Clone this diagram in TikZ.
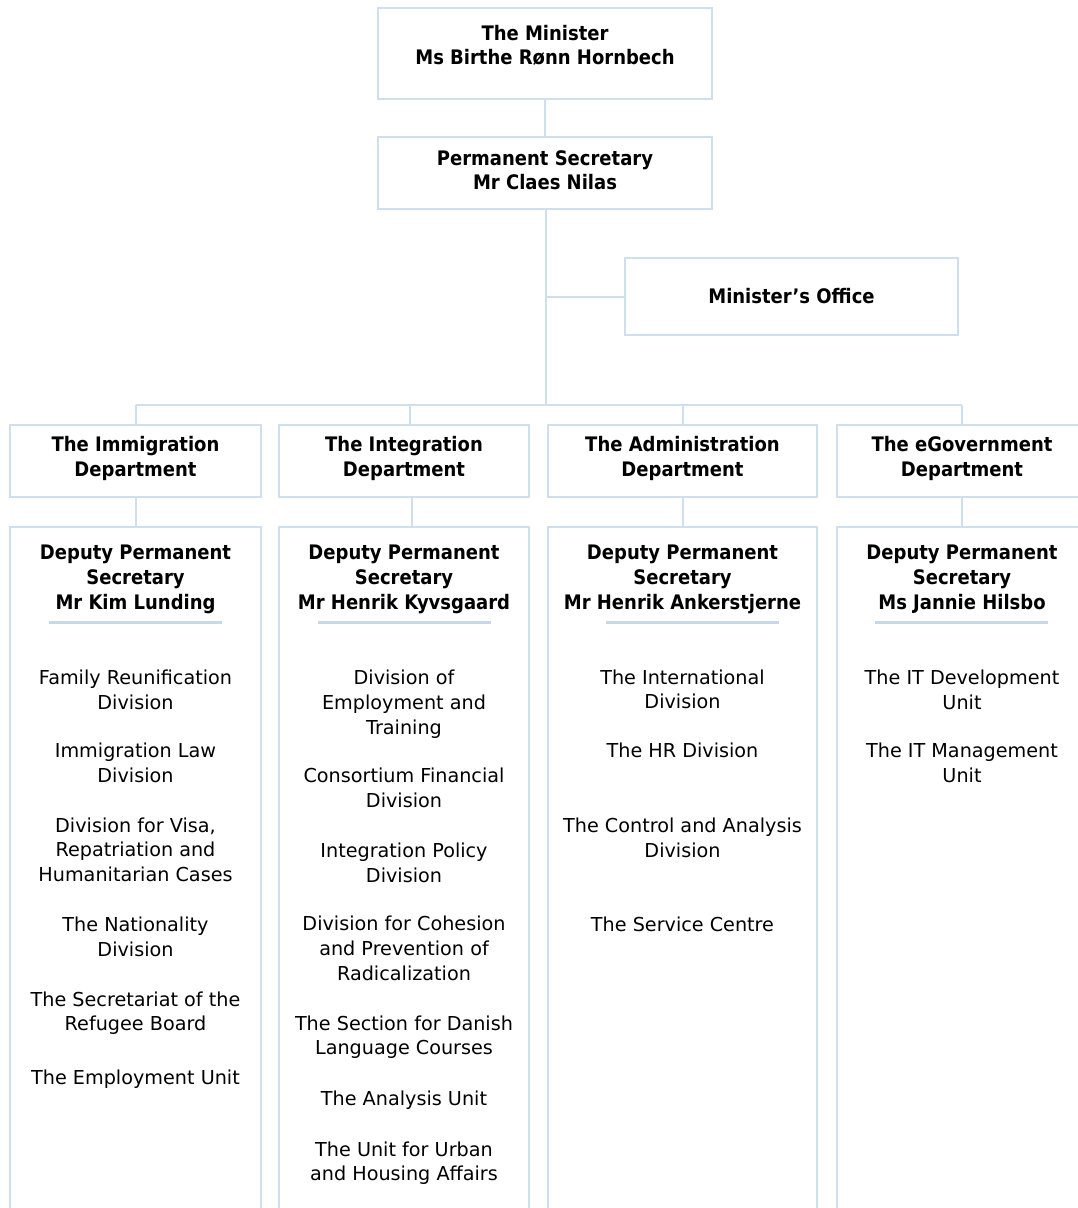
\documentclass[tikz,border=0pt]{standalone}
\usepackage{fontspec}
\setmainfont{DejaVu Sans}
\newfontfamily\hdfont{DejaVu Sans Condensed}
\definecolor{lineblue}{HTML}{D0DFEE}
\definecolor{ulblue}{HTML}{C8D8E8}
\tikzset{
  box/.style={draw=lineblue, line width=2pt, rectangle, inner sep=0pt},
  conn/.style={draw=lineblue, line width=2pt},
  uline/.style={draw=ulblue, line width=3pt},
  txt/.style={font=\fontsize{19.2}{24.8}\selectfont, align=center, inner sep=0pt, text=black},
  hd/.style={font=\hdfont\bfseries\fontsize{20}{24.8}\selectfont, align=center, inner sep=0pt, text=black},
}
\begin{document}
\begin{tikzpicture}[x=1pt,y=-1pt]
\useasboundingbox (0,0) rectangle (1078,1208);
\clip (0,0) rectangle (1078,1208);

% boxes
\node[box, minimum width=334pt, minimum height=91pt] (min) at (545,53.5) {};
\node[box, minimum width=334pt, minimum height=72pt] (ps) at (545,173) {};
\node[box, minimum width=333pt, minimum height=77pt] (office) at (791.5,296.5) {};
\node[box, minimum width=251pt, minimum height=72pt] (immd) at (135.5,461) {};
\node[box, minimum width=250pt, minimum height=72pt] (intd) at (404,461) {};
\node[box, minimum width=269pt, minimum height=72pt] (admd) at (682.5,461) {};
\node[box, minimum width=250pt, minimum height=72pt] (egovd) at (962,461) {};
\node[box, minimum width=251pt, minimum height=703pt] (imml) at (135.5,878.5) {};
\node[box, minimum width=250pt, minimum height=703pt] (intl) at (404,878.5) {};
\node[box, minimum width=269pt, minimum height=703pt] (adml) at (682.5,878.5) {};
\node[box, minimum width=250pt, minimum height=703pt] (egovl) at (962,878.5) {};

% connectors
\coordinate (j) at (546,405);
\draw[conn] (min.south) -- (ps.south |- min.south) -- (ps.north);
\draw[conn] ([xshift=1pt]ps.south) -- (j);
\draw[conn] ([xshift=1pt]ps.south |- office.west) -- (office.west);
\draw[conn] (immd.north |- j) -- (egovd.north |- j);
\draw[conn] (immd.north |- j) -- (immd.north);
\draw[conn] ([xshift=6pt]intd.north |- j) -- ([xshift=6pt]intd.north);
\draw[conn] (admd.north |- j) -- (admd.north);
\draw[conn] (egovd.north |- j) -- (egovd.north);
\draw[conn] (immd.south) -- (imml.north);
\draw[conn] ([xshift=8pt]intd.south) -- ([xshift=8pt]intl.north);
\draw[conn] (admd.south) -- (adml.north);
\draw[conn] (egovd.south) -- (egovl.north);

% top texts
\node[hd] (mintxt) at (545,47.5) {\strut The Minister\\\strut Ms Birthe Rønn Hornbech};
\node[hd] (pstxt) at (545,172.5) {\strut Permanent Secretary\\\strut Mr Claes Nilas};
\node[hd] (offtxt) at (791.5,299) {\strut Minister’s Office};
\node[hd] (immdtxt) at (135.5,459) {\strut The Immigration\\\strut Department};
\node[hd] (intdtxt) at (404,459) {\strut The Integration\\\strut Department};
\node[hd] (admdtxt) at (682.5,459) {\strut The Administration\\\strut Department};
\node[hd] (egovdtxt) at (962,459) {\strut The eGovernment\\\strut Department};

% lower headers
\node[hd] (immh) at (135.5,579.5) {\strut Deputy Permanent\\\strut Secretary\\\strut Mr Kim Lunding};
\node[hd] (inth) at (404,579.5) {\strut Deputy Permanent\\\strut Secretary\\\strut Mr Henrik Kyvsgaard};
\node[hd] (admh) at (682.5,579.5) {\strut Deputy Permanent\\\strut Secretary\\\strut Mr Henrik Ankerstjerne};
\node[hd] (egovh) at (962,579.5) {\strut Deputy Permanent\\\strut Secretary\\\strut Ms Jannie Hilsbo};

\coordinate (u1a) at (49,622); \coordinate (u1b) at (222,622);
\coordinate (u2a) at (318,622); \coordinate (u2b) at (491,622);
\coordinate (u3a) at (606,622); \coordinate (u3b) at (779,622);
\coordinate (u4a) at (875,622); \coordinate (u4b) at (1048,622);
\draw[uline] (u1a) -- (u1b);
\draw[uline] (u2a) -- (u2b);
\draw[uline] (u3a) -- (u3b);
\draw[uline] (u4a) -- (u4b);

% immigration items
\node[txt] (i1) at (135.5,692) {\strut Family Reunification\\\strut Division};
\node[txt] (i2) at (135.5,765) {\strut Immigration Law\\\strut Division};
\node[txt] (i3) at (135.5,852) {\strut Division for Visa,\\\strut Repatriation and\\\strut Humanitarian Cases};
\node[txt] (i4) at (135.5,939) {\strut The Nationality\\\strut Division};
\node[txt] (i5) at (135.5,1013.5) {\strut The Secretariat of the\\\strut Refugee Board};
\node[txt] (i6) at (135.5,1080) {\strut The Employment Unit};

% integration items
\node[txt] (n1) at (404,704.5) {\strut Division of\\\strut Employment and\\\strut Training};
\node[txt] (n2) at (404,790) {\strut Consortium Financial\\\strut Division};
\node[txt] (n3) at (404,865) {\strut Integration Policy\\\strut Division};
\node[txt] (n4) at (404,950.5) {\strut Division for Cohesion\\\strut and Prevention of\\\strut Radicalization};
\node[txt] (n5) at (404,1037.5) {\strut The Section for Danish\\\strut Language Courses};
\node[txt] (n6) at (404,1101) {\strut The Analysis Unit};
\node[txt] (n7) at (404,1163.5) {\strut The Unit for Urban\\\strut and Housing Affairs};

% administration items
\node[txt] (a1) at (682.5,691.5) {\strut The International\\\strut Division};
\node[txt] (a2) at (682.5,753) {\strut The HR Division};
\node[txt] (a3) at (682.5,840) {\strut The Control and Analysis\\\strut Division};
\node[txt] (a4) at (682.5,927) {\strut The Service Centre};

% egov items
\node[txt] (e1) at (962,692) {\strut The IT Development\\\strut Unit};
\node[txt] (e2) at (962,765) {\strut The IT Management\\\strut Unit};
\end{tikzpicture}
\end{document}
